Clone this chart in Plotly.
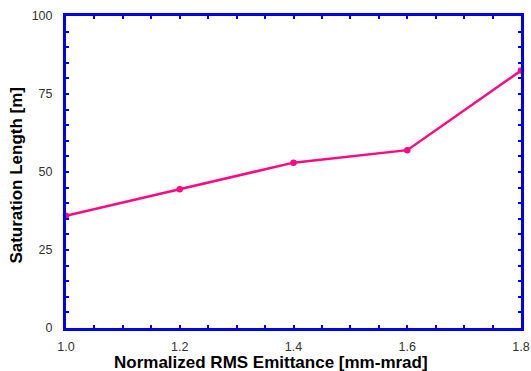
import plotly.graph_objects as go

# Saturation length versus normalized RMS emittance
emittance = [1.0, 1.2, 1.4, 1.6, 1.8]
sat_length = [36, 44.5, 53, 57, 82.5]

x_ticks = [1.0, 1.2, 1.4, 1.6, 1.8]
x_tick_text = ["1.0", "1.2", "1.4", "1.6", "1.8"]
y_ticks = [0, 25, 50, 75, 100]

x_title = "Normalized RMS Emittance [mm-mrad]"
y_title = "Saturation Length [m]"

axis_blue = "#0000E6"
line_pink = "#FF0A80"
font_family = "Liberation Sans, Arial"

fig = go.Figure(
    go.Scatter(
        x=emittance,
        y=sat_length,
        mode="lines+markers",
        line=dict(color=line_pink, width=2.5),
        marker=dict(color=line_pink, size=6.5),
        cliponaxis=False,
    )
)

common_axis = dict(
    showline=True,
    linecolor=axis_blue,
    linewidth=3,
    mirror="ticks",
    ticks="inside",
    ticklen=3,
    tickwidth=2,
    tickcolor=axis_blue,
    showgrid=False,
    zeroline=False,
    automargin=False,
    tickfont=dict(family=font_family, size=12.5, color="#333"),
)

fig.update_xaxes(
    range=[1.0, 1.8],
    tickvals=x_ticks,
    ticktext=x_tick_text,
    minor=dict(dtick=0.05, ticks="inside", ticklen=3, tickwidth=2, tickcolor=axis_blue, showgrid=False),
    ticklabelstandoff=5,
    **common_axis,
)
fig.update_yaxes(
    range=[0, 100],
    tickvals=y_ticks,
    minor=dict(dtick=5, ticks="inside", ticklen=3, tickwidth=2, tickcolor=axis_blue, showgrid=False),
    ticklabelstandoff=8,
    **common_axis,
)

title_font = dict(family=font_family, size=17, color="#000")
fig.add_annotation(
    text=f"<b>{x_title}</b>", xref="paper", yref="paper",
    x=0.4495, y=-0.112, xanchor="center", yanchor="middle",
    showarrow=False, font=title_font,
)
fig.add_annotation(
    text=f"<b>{y_title}</b>", xref="paper", yref="paper",
    x=-0.1088, y=0.49, xanchor="center", yanchor="middle",
    textangle=-90, showarrow=False, font=title_font,
)

fig.update_layout(
    width=531,
    height=371,
    margin=dict(l=66, r=10, t=16, b=43),
    plot_bgcolor="white",
    paper_bgcolor="white",
    showlegend=False,
)

fig.write_html("out.html")
